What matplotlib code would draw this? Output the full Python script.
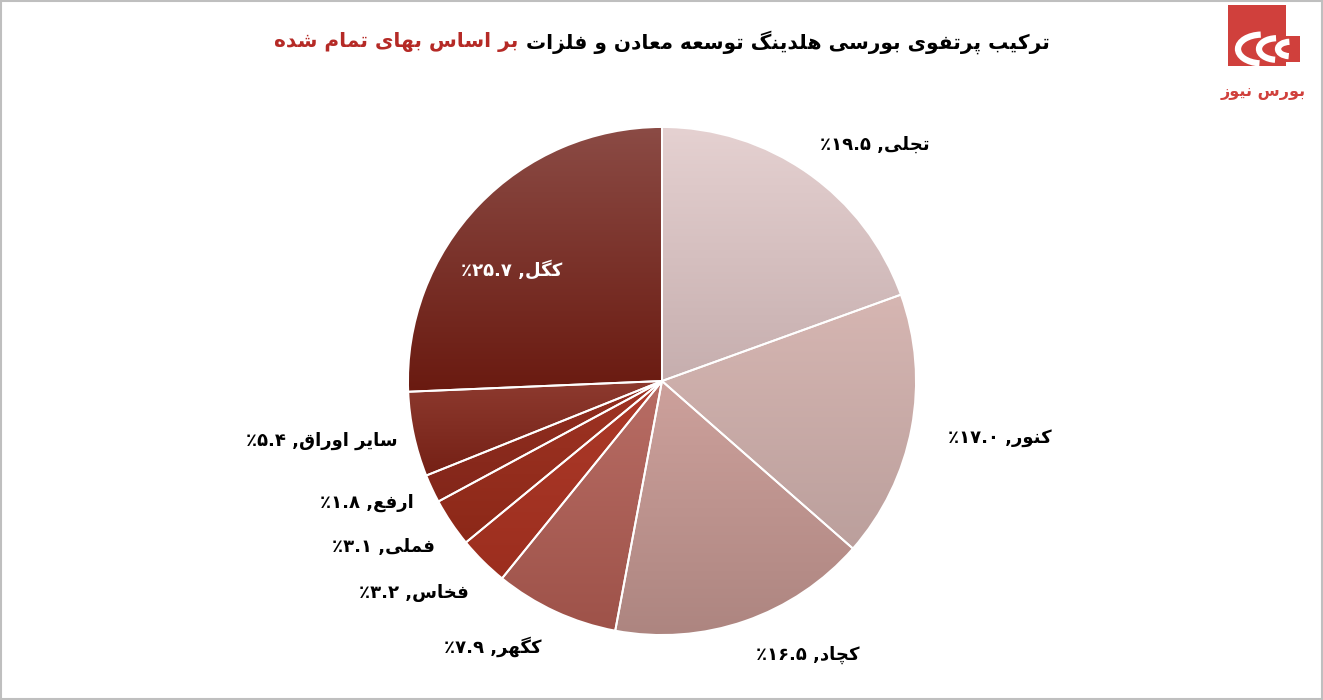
import numpy as np
import matplotlib
matplotlib.use("Agg")
import matplotlib.pyplot as plt
from matplotlib.patches import Rectangle, Arc
from matplotlib.colors import LinearSegmentedColormap

# ---------------- data ----------------
names = ["تجلی", "کنور", "کچاد", "کگهر", "فخاس", "فملی", "ارفع", "سایر اوراق", "کگل"]
values = [19.5, 17.0, 16.5, 7.9, 3.2, 3.1, 1.8, 5.4, 25.7]
value_labels = ["۱۹.۵", "۱۷.۰", "۱۶.۵", "۷.۹", "۳.۲", "۳.۱", "۱.۸", "۵.۴", "۲۵.۷"]
title_black = "ترکیب پرتفوی بورسی هلدینگ توسعه معادن و فلزات"
title_red = "بر اساس بهای تمام شده"
logo_text = "بورس نیوز"

# ---------------- minimal Arabic/Persian shaping ----------------
FORMS = {
    'ا': ('\uFE8D', '\uFE8E', None, None),
    'آ': ('\uFE81', '\uFE82', None, None),
    'ب': ('\uFE8F', '\uFE90', '\uFE91', '\uFE92'),
    'پ': ('\uFB56', '\uFB57', '\uFB58', '\uFB59'),
    'ت': ('\uFE95', '\uFE96', '\uFE97', '\uFE98'),
    'ث': ('\uFE99', '\uFE9A', '\uFE9B', '\uFE9C'),
    'ج': ('\uFE9D', '\uFE9E', '\uFE9F', '\uFEA0'),
    'چ': ('\uFB7A', '\uFB7B', '\uFB7C', '\uFB7D'),
    'ح': ('\uFEA1', '\uFEA2', '\uFEA3', '\uFEA4'),
    'خ': ('\uFEA5', '\uFEA6', '\uFEA7', '\uFEA8'),
    'د': ('\uFEA9', '\uFEAA', None, None),
    'ذ': ('\uFEAB', '\uFEAC', None, None),
    'ر': ('\uFEAD', '\uFEAE', None, None),
    'ز': ('\uFEAF', '\uFEB0', None, None),
    'ژ': ('\uFB8A', '\uFB8B', None, None),
    'س': ('\uFEB1', '\uFEB2', '\uFEB3', '\uFEB4'),
    'ش': ('\uFEB5', '\uFEB6', '\uFEB7', '\uFEB8'),
    'ع': ('\uFEC9', '\uFECA', '\uFECB', '\uFECC'),
    'ف': ('\uFED1', '\uFED2', '\uFED3', '\uFED4'),
    'ق': ('\uFED5', '\uFED6', '\uFED7', '\uFED8'),
    'ک': ('\uFB8E', '\uFB8F', '\uFB90', '\uFB91'),
    'گ': ('\uFB92', '\uFB93', '\uFB94', '\uFB95'),
    'ل': ('\uFEDD', '\uFEDE', '\uFEDF', '\uFEE0'),
    'م': ('\uFEE1', '\uFEE2', '\uFEE3', '\uFEE4'),
    'ن': ('\uFEE5', '\uFEE6', '\uFEE7', '\uFEE8'),
    'ه': ('\uFEE9', '\uFEEA', '\uFEEB', '\uFEEC'),
    'و': ('\uFEED', '\uFEEE', None, None),
    'ی': ('\uFBFC', '\uFBFD', '\uFBFE', '\uFBFF'),
}


def shape(s):
    out = []
    n = len(s)
    i = 0
    while i < n:
        c = s[i]
        if c not in FORMS:
            out.append(c)
            i += 1
            continue
        prev = s[i - 1] if i > 0 else ''
        prev_joins = prev in FORMS and FORMS[prev][2] is not None
        if c == 'ل' and i + 1 < n and s[i + 1] == 'ا':
            out.append('\uFEFC' if prev_joins else '\uFEFB')
            i += 2
            continue
        nxt = s[i + 1] if i + 1 < n else ''
        next_joins = FORMS[c][2] is not None and nxt in FORMS
        iso, fin, ini, med = FORMS[c]
        if prev_joins and next_joins:
            out.append(med)
        elif prev_joins:
            out.append(fin)
        elif next_joins:
            out.append(ini)
        else:
            out.append(iso)
        i += 1
    return ''.join(out)


def vis(s):
    return shape(s)[::-1]


# ---------------- figure ----------------
W, H = 1323, 700
fig = plt.figure(figsize=(W / 100, H / 100), dpi=100)
ax = fig.add_axes([0, 0, 1, 1])
cx, cy, R = 662, H - 381, 254

wedges, _ = ax.pie(values, startangle=90, counterclock=False, radius=R,
                   center=(cx, cy),
                   wedgeprops=dict(edgecolor='white', linewidth=1.4))

# gradient colors (top, bottom) for each slice
grad = [("#e5d1d1", "#c6aeae"),
        ("#d6b6b2", "#bb9f9c"),
        ("#cda19c", "#ad8580"),
        ("#b86d65", "#9e5249"),
        ("#ad3a2a", "#9c2e1e"),
        ("#9f3424", "#8c2818"),
        ("#922f20", "#83261a"),
        ("#8d3a2f", "#752015"),
        ("#8b4b45", "#6a1a10")]

for w, (ct, cb) in zip(wedges, grad):
    w.set_facecolor('none')
    bb = w.get_path().get_extents(w.get_patch_transform())
    cmap = LinearSegmentedColormap.from_list('g', [cb, ct])
    img = np.linspace(0, 1, 256).reshape(-1, 1)
    im = ax.imshow(img, cmap=cmap, origin='lower', aspect='auto',
                   extent=(bb.x0, bb.x1, bb.y0, bb.y1), zorder=1,
                   interpolation='bilinear')
    im.set_clip_path(w)
    w.set_zorder(2)

ax.set_xlim(0, W)
ax.set_ylim(0, H)
ax.set_aspect('auto')
ax.axis('off')

# labels
label_pos = [(875, 145), (1000, 438), (808, 655), (493, 647), (414, 593),
             (383, 547), (367, 503), (322, 441), (512, 270)]
for i, (nm, vl) in enumerate(zip(names, value_labels)):
    txt = "٪" + vl + " ," + vis(nm)
    col = 'white' if i == len(names) - 1 else 'black'
    x, y = label_pos[i]
    ax.text(x, H - y, txt, ha='center', va='center', fontsize=13,
            fontweight='bold', color=col, family=['DejaVu Sans'], zorder=5)

# title (RTL: red part on the left)
t_red = ax.text(0, 0, vis(title_red), fontsize=14.5, fontweight='bold',
                color='#b52a26', family=['DejaVu Sans'])
t_blk = ax.text(0, 0, "\u00a0" + vis(title_black), fontsize=14.5, fontweight='bold',
                color='black', family=['DejaVu Sans'])
fig.canvas.draw()
r = fig.canvas.get_renderer()
wr = t_red.get_window_extent(r).width
wb = t_blk.get_window_extent(r).width
x0 = 662 - (wr + wb) / 2
t_red.set_position((x0, H - 42))
t_red.set_va('center')
t_blk.set_position((x0 + wr, H - 42))
t_blk.set_va('center')

# logo
logo_red = '#d0403c'
ax.add_patch(Rectangle((1228, H - 66), 58, 61, facecolor=logo_red, edgecolor='none', zorder=3))
ax.add_patch(Rectangle((1270, H - 62), 30, 26, facecolor=logo_red, edgecolor='none', zorder=3))
for k, (ox, rr) in enumerate([(1262, 24), (1277, 18), (1290, 12)]):
    ax.add_patch(Arc((ox, H - 49), 2 * rr, 1.2 * rr, theta1=95, theta2=260,
                     color='white', lw=4.5, zorder=4))
ax.text(1263, H - 92, vis(logo_text), ha='center', va='center', fontsize=11.5,
        color=logo_red, fontweight='bold', family=['DejaVu Sans'], zorder=5)

# border
ax.add_patch(Rectangle((1, 1), W - 2, H - 2, facecolor='none',
                       edgecolor='#bfbfbf', lw=1.5, zorder=6))

fig.savefig('out.png', dpi=100)
